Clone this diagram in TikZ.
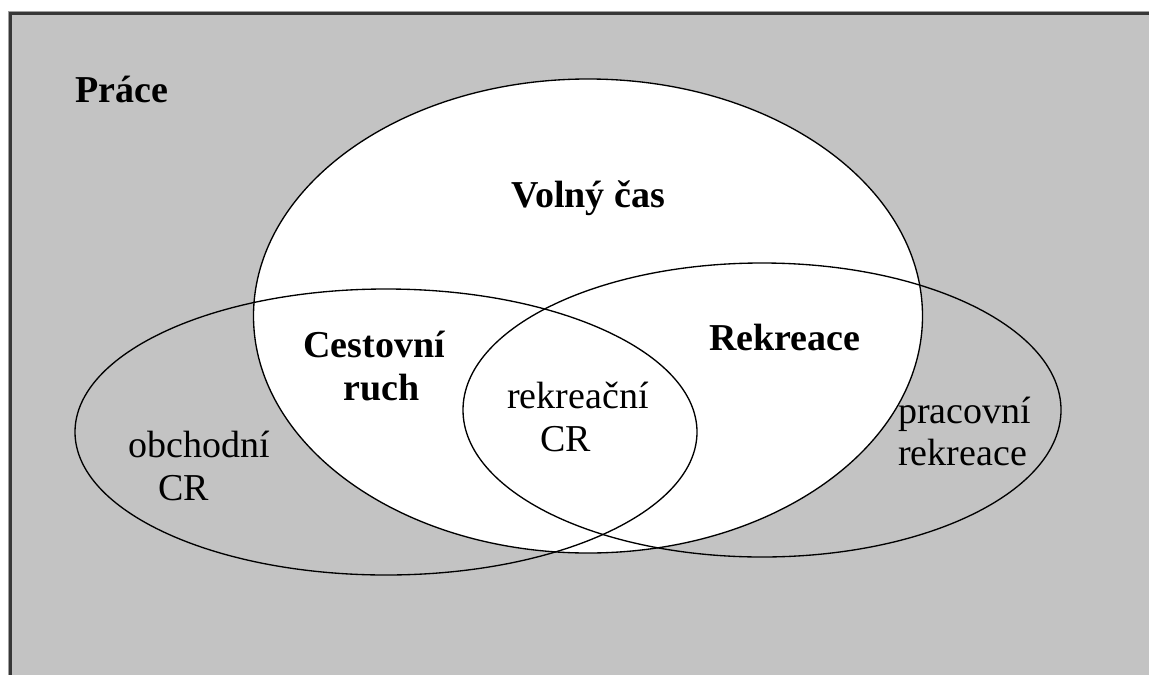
\documentclass[tikz,border=0pt]{standalone}
\usepackage{fontspec}
\setmainfont{Liberation Serif}
\definecolor{bggray}{RGB}{195,195,195}
\definecolor{framedark}{RGB}{55,55,55}
\definecolor{framelight}{RGB}{160,160,160}
\tikzset{
  lbl/.style={inner sep=0pt, anchor=base west, font=\fontsize{28.5pt}{34pt}\selectfont},
  blbl/.style={lbl, font=\fontsize{28.5pt}{34pt}\selectfont\bfseries},
  venn/.style={draw=black, line width=1pt},
}
\begin{document}
\begin{tikzpicture}[x=0.75pt,y=-0.75pt]
\useasboundingbox (0,0) rectangle (1149,675);
\fill[white] (0,0) rectangle (1149,675);
% gray work area
\fill[bggray] (10,13) rectangle (1149,675);
\draw[framelight, line width=0.75pt] (8,11) -- (1149,11);
\draw[framelight, line width=0.75pt] (8,11) -- (8,675);
\draw[framedark, line width=2.2pt] (10,13.5) -- (1149,13.5);
\draw[framedark, line width=2.2pt] (10.5,12) -- (10.5,675);
% free time (white)
\fill[white] (588,316) ellipse [x radius=250.875pt, y radius=177.75pt];
% outlines
\draw[venn] (588,316) ellipse [x radius=250.875pt, y radius=177.75pt];
\draw[venn] (386,432) ellipse [x radius=233.25pt, y radius=107.25pt];
\draw[venn] (762,410) ellipse [x radius=224.25pt, y radius=110.25pt];
% labels
\node[blbl] (prace) at (75,102) {Práce};
\node[blbl, anchor=base] (volny) at (588,207) {Volný čas};
\node[blbl] (cr1) at (303,357) {Cestovní};
\node[blbl] (cr2) at (343,400) {ruch};
\node[blbl] (rek) at (709,350) {Rekreace};
\node[lbl] (rcr1) at (507,408) {rekreační};
\node[lbl] (rcr2) at (540,451) {CR};
\node[lbl] (ocr1) at (128,457) {obchodní};
\node[lbl] (ocr2) at (158,500) {CR};
\node[lbl] (pr1) at (898,423) {pracovní};
\node[lbl] (pr2) at (898,465) {rekreace};
\end{tikzpicture}
\end{document}
